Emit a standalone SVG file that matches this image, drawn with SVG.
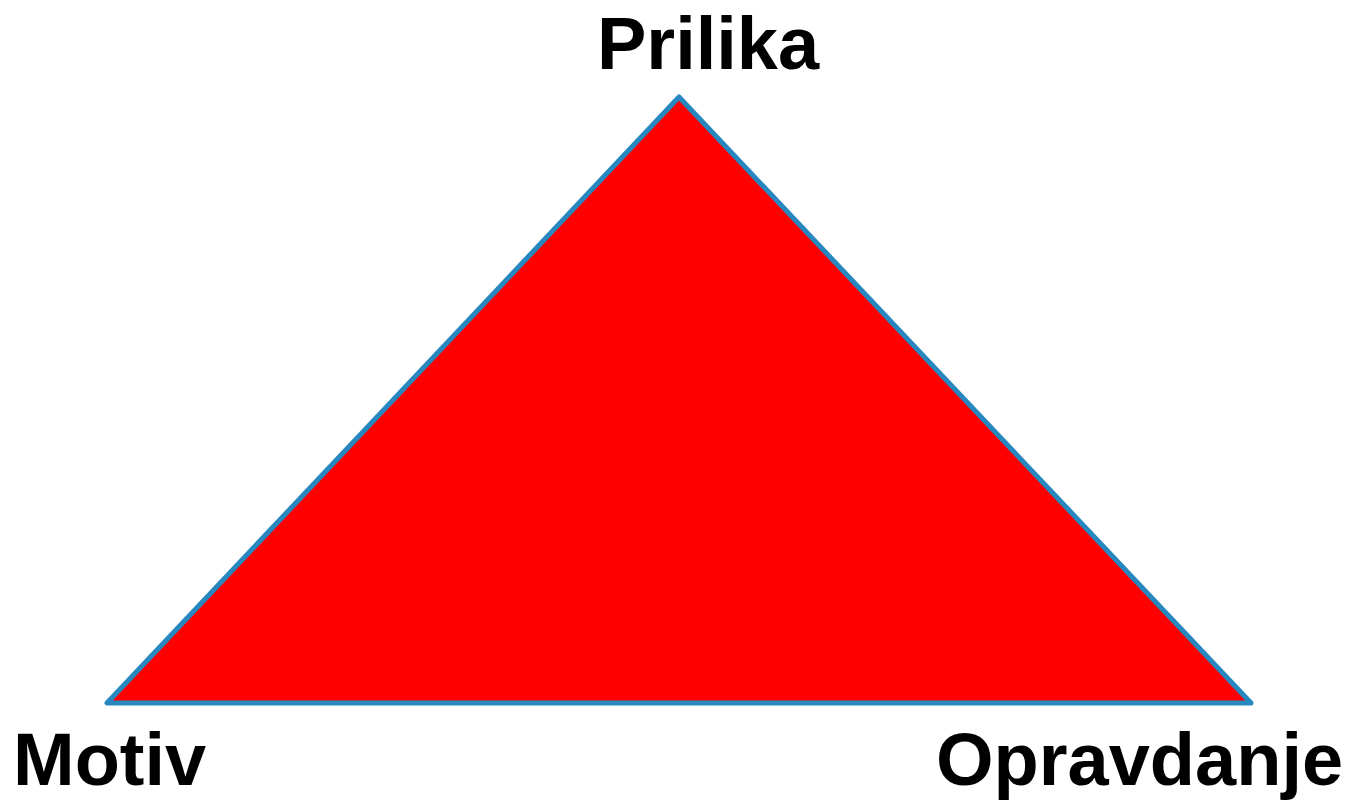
<svg xmlns="http://www.w3.org/2000/svg" width="1350" height="802" viewBox="0 0 1350 802">
<style>
.lbl{font-family:"Liberation Sans",Arial,sans-serif;font-weight:bold;font-size:74px;fill:#000}
</style>
<rect width="1350" height="802" fill="#fff"/>
<g id="triangle">
<polygon points="679,97 107,703 1251,703" fill="#ff0000" stroke="#2788c0" stroke-width="5" stroke-linejoin="round"/>
</g>
<g id="prilika"><text class="lbl" x="597" y="69">Prilika</text></g>
<g id="motiv"><text class="lbl" x="13" y="785">Motiv</text></g>
<g id="opravdanje"><text class="lbl" x="936" y="785">Opravdanje</text></g>
<g id="connectors"></g>
</svg>
